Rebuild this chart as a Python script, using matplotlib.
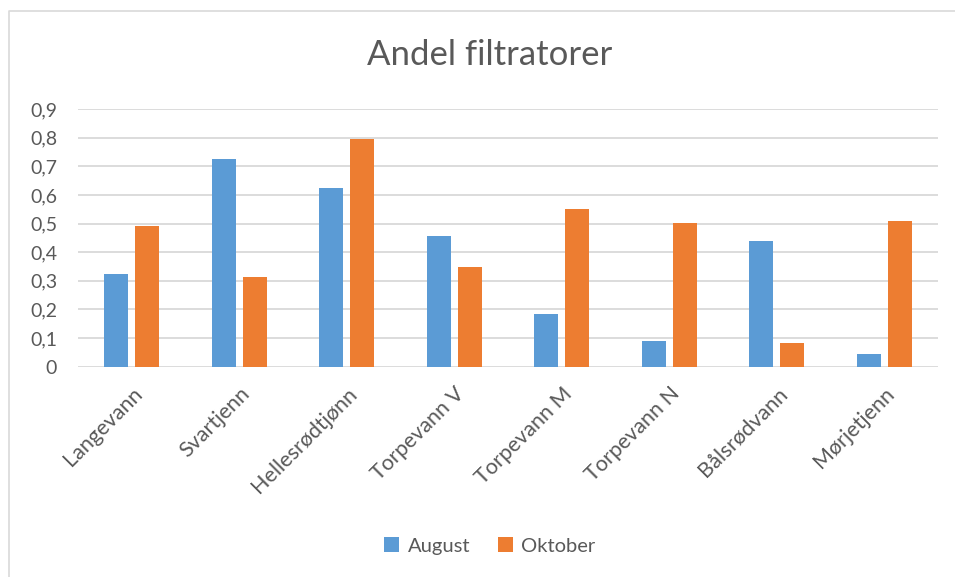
import matplotlib.pyplot as plt
import numpy as np
from matplotlib.ticker import FuncFormatter
from matplotlib.lines import Line2D

plt.rcParams['font.family'] = ['Lato', 'DejaVu Sans']

lakes = ['Langevann', 'Svartjenn', 'Hellesrødtjønn', 'Torpevann V',
         'Torpevann M', 'Torpevann N', 'Bålsrødvann', 'Mørjetjenn']
august = [0.325, 0.724, 0.624, 0.456, 0.183, 0.089, 0.44, 0.043]
oktober = [0.49, 0.313, 0.794, 0.347, 0.55, 0.501, 0.082, 0.51]

blue = '#5b9bd5'
orange = '#ed7d31'
grey = '#595959'

fig = plt.figure(figsize=(9.55, 5.77), dpi=100)
# chart border (only top and left edges show in the crop)
fig.lines.append(Line2D([8.5/955, 8.5/955, 1], [0, 1 - 11/577, 1 - 11/577],
                        transform=fig.transFigure, color='#d9d9d9',
                        linewidth=1.2))

ax = fig.add_axes([78/955, 1 - 366.7/577, 860/955, (366.7 - 109)/577])
x = np.arange(len(lakes))
w = 0.223
ax.bar(x - 0.142, august, w, color=blue, label='August', zorder=3)
ax.bar(x + 0.142, oktober, w, color=orange, label='Oktober', zorder=3)

ax.set_xlim(-0.5, len(lakes) - 0.5)
ax.set_ylim(0, 0.9)
ax.set_yticks(np.arange(0, 0.91, 0.1))
ax.yaxis.set_major_formatter(FuncFormatter(
    lambda v, p: '0' if abs(v) < 1e-9 else ('%.1f' % v).replace('.', ',')))
ax.grid(axis='y', color='#d9d9d9', linewidth=1.3, zorder=0)
for s in ax.spines.values():
    s.set_visible(False)
ax.tick_params(axis='both', length=0, colors=grey)
ax.tick_params(axis='y', pad=15, labelsize=14)
ax.set_xticks(x)
ax.set_xticklabels(lakes, rotation=45, ha='right', rotation_mode='anchor')
ax.tick_params(axis='x', pad=12, labelsize=15.5)

fig.text(0.513, 1 - 55/577, 'Andel filtratorer', ha='center', va='center',
         fontsize=25, color=grey)

fig.legend(loc='center', bbox_to_anchor=(0.513, 1 - 546/577), ncol=2,
           frameon=False, fontsize=14.5, handlelength=0.75, handleheight=0.75,
           handletextpad=0.4, columnspacing=1.4, labelcolor=grey)

fig.savefig('out.png', dpi=100)
